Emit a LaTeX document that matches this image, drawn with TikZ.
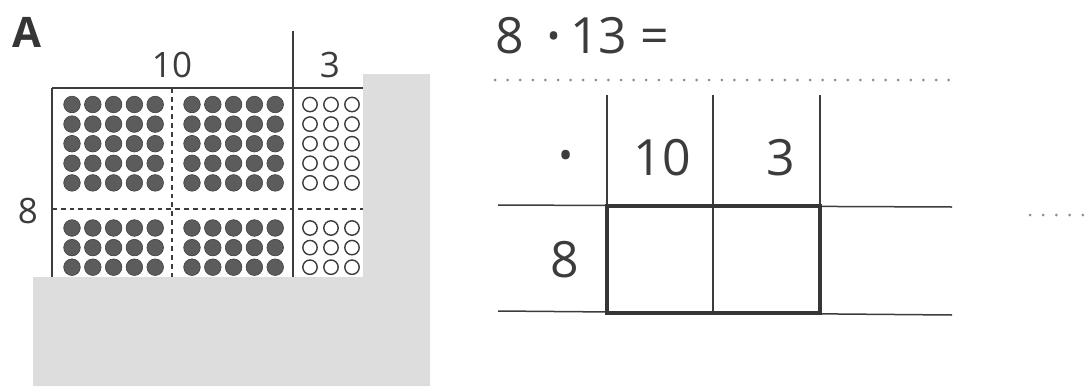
\documentclass[tikz,border=0pt]{standalone}
\usepackage{fontspec}
\setmainfont{Open Sans}
\definecolor{ink}{HTML}{3C3C3C}
\definecolor{sheetgrey}{HTML}{DDDDDD}
\definecolor{dotfill}{HTML}{5C5C5C}

\begin{document}
\begin{tikzpicture}[
    x=0.5pt, y=-0.5pt,
    rule/.style     = {draw=ink, line width=0.75pt},
    cut/.style      = {rule, dash pattern=on 2.4pt off 2pt},
    frame/.style    = {draw=ink!90!black, line width=1.6pt},
    dotline/.style  = {draw=black!45, line width=1.5pt, line cap=round,
                       dash pattern=on 0pt off 6.3pt},
    full/.style     = {fill=dotfill, draw=black!75, line width=0.3pt},
    empty/.style    = {draw=ink, line width=0.7pt, fill=white},
    small/.style    = {text=ink, inner sep=0pt, font=\fontsize{17.5}{20}\selectfont},
    big/.style      = {text=ink, inner sep=0pt, font=\fontsize{25}{28}\selectfont}
]
\useasboundingbox (0,0) rectangle (1088,386);

% Part A: dot field 8 x 13
\node[text=ink!90!black, inner sep=0pt, font=\fontsize{21}{24}\selectfont\bfseries]
    (tag) at (27,32) {A};
\node[small] (top10) at (172,65) {10};
\node[small] (top3)  at (330,65) {3};
\node[small] (side8) at (28,211) {8};

\draw[rule] (52,88) -- (370,88);
\draw[rule] (52,88) -- (52,282);
\draw[rule] (293,31) -- (293,282);
\draw[cut] (172,88) -- (172,282);
\draw[cut] (52,209) -- (370,209);

\foreach \r in {0,...,4} {
    \foreach \c in {0,...,4} {
        \fill[full] (72+20.8*\c, 104.5+19.6*\r) circle (4.15pt);
        \fill[full] (192+20.8*\c, 104.5+19.6*\r) circle (4.15pt);
    }
    \foreach \c in {0,1,2}
        \draw[empty] (310+21*\c, 104.5+19.6*\r) circle (3.6pt);
}
\foreach \r in {0,1,2} {
    \foreach \c in {0,...,4} {
        \fill[full] (72+20.8*\c, 228+19.6*\r) circle (4.15pt);
        \fill[full] (192+20.8*\c, 228+19.6*\r) circle (4.15pt);
    }
    \foreach \c in {0,1,2}
        \draw[empty] (310+21*\c, 228+19.6*\r) circle (3.6pt);
}

% grey cover sheet
\fill[sheetgrey] (363,74) -- (430,74) -- (430,386) -- (33,386) -- (33,277) -- (363,277) -- cycle;

% Part B: multiplication table
\node[big, anchor=west] (task) at (495,38)
    {8\hspace{11pt}{\fontsize{32}{32}\selectfont\raisebox{-2.5pt}{·}}\hspace{3.5pt}13 =};
\coordinate (dl) at (495,80);
\coordinate (dr) at (958,80);
\draw[dotline] (dl) -- (dr);

\coordinate (hl1) at (498,205);
\coordinate (hr1) at (952,207);
\coordinate (hl2) at (498,311);
\coordinate (hr2) at (952,315);
\draw[rule] (hl1) -- (hr1);
\draw[rule] (hl2) -- (hr2);

\draw[rule] (607,95) -- (607,206);
\draw[rule] (713,95) -- (713,313);
\draw[rule] (820,95) -- (820,207);
\draw[frame] (607,206) rectangle (820,313);

\node[big, font=\fontsize{36}{36}\selectfont] (op) at (566,165) {·};
\node[big] (ten)  at (662,158) {10};
\node[big] (one)  at (781,158) {3};
\node[big] (rowe) at (565,260) {8};

% answer line
\coordinate (al) at (1030,215);
\coordinate (ar) at (1084,215);
\draw[dotline, dash pattern=on 0pt off 6.6pt] (al) -- (ar);

\end{tikzpicture}
\end{document}
